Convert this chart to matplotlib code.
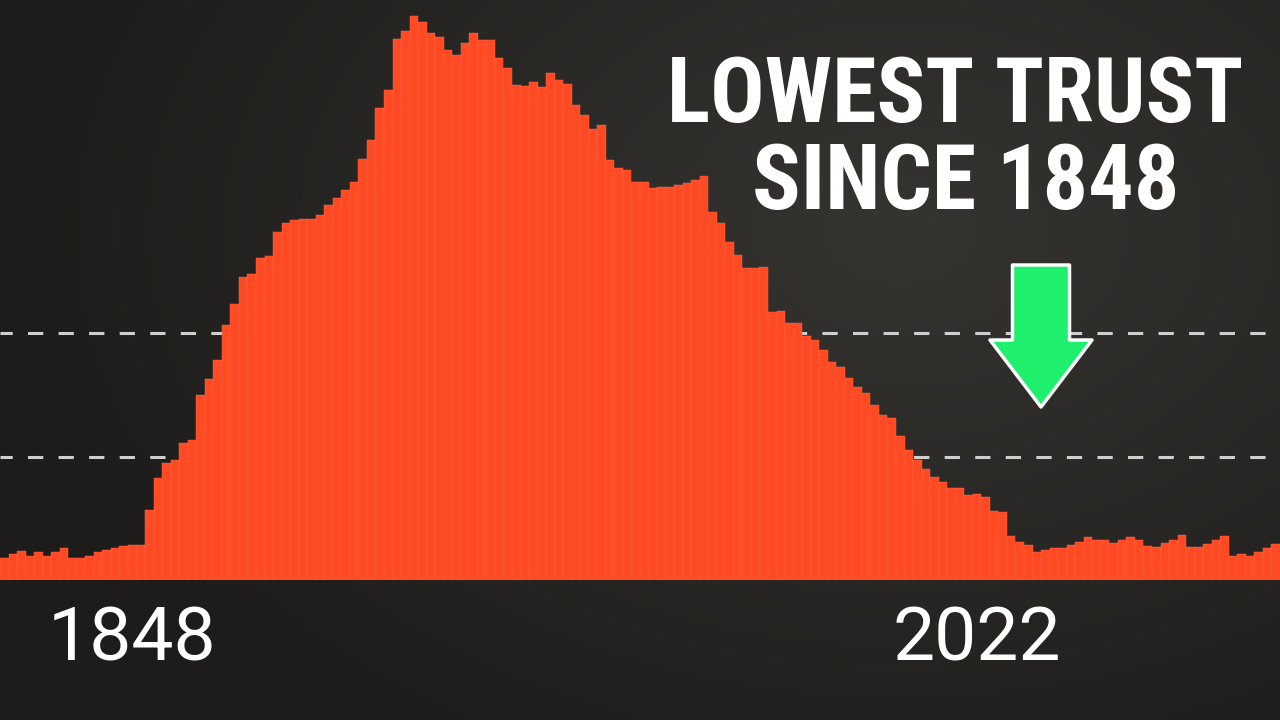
import numpy as np
import matplotlib
matplotlib.use("Agg")
import matplotlib.pyplot as plt
from matplotlib.patches import FancyArrow

# bar heights (baseline = 0, top of frame = 580)
trust = [
    22, 26, 29, 24, 28, 24, 28, 32, 22, 22,
    24, 28, 30, 32, 34, 35, 35, 70, 102, 117,
    120, 137, 140, 185, 201, 220, 255, 276, 303, 306,
    322, 324, 348, 357, 360, 361, 361, 365, 375, 382,
    390, 398, 421, 440, 472, 490, 541, 549, 564, 558,
    547, 543, 530, 525, 537, 547, 540, 540, 522, 512,
    495, 494, 498, 493, 507, 500, 496, 475, 465, 451,
    455, 420, 412, 410, 398, 398, 392, 393, 393, 395,
    397, 400, 404, 368, 357, 338, 325, 312, 312, 313,
    268, 269, 257, 257, 244, 240, 230, 218, 213, 202,
    193, 187, 175, 165, 162, 144, 130, 120, 111, 103,
    98, 92, 92, 85, 86, 83, 69, 68, 44, 38,
    35, 28, 30, 32, 32, 35, 38, 43, 40, 40,
    37, 40, 43, 40, 34, 33, 37, 40, 45, 33,
    33, 36, 40, 44, 24, 26, 24, 28, 32, 36,
]
ref_levels = [123, 247]
year_labels = ["1848", "2022"]
headline = ["LOWEST TRUST", "SINCE 1848"]

W, H = 1280, 720
BASE = 580
fig = plt.figure(figsize=(W / 100, H / 100), dpi=100)

# chalkboard background with a soft light spot
bg = fig.add_axes([0, 0, 1, 1], zorder=0)
yy, xx = np.mgrid[0:H, 0:W]
d = np.sqrt(((xx - 900) / 900) ** 2 + ((yy - 230) / 620) ** 2)
shade = np.clip(1 - d, 0, 1)
lo = np.array([0x1d, 0x1c, 0x1a]) / 255
hi = np.array([0x36, 0x34, 0x31]) / 255
img = lo + (hi - lo) * shade[..., None]
bg.imshow(img, extent=[0, W, H, 0], aspect="auto")
bg.axis("off")

# the bars
ax = fig.add_axes([0, (H - BASE) / H, 1, BASE / H], zorder=1)
ax.patch.set_alpha(0)
for lvl in ref_levels:
    ax.axhline(lvl, color="#cfcfcf", lw=2.2, ls=(1, (5, 5)), zorder=1)
ax.bar(np.arange(len(trust)), trust, width=1.0, align="edge",
       color="#ff4a24", edgecolor="#ff6a48", linewidth=0.3, zorder=2)
ax.set_xlim(0, len(trust))
ax.set_ylim(0, BASE)
ax.axis("off")

# overlay in pixel coordinates for text and arrow
ov = fig.add_axes([0, 0, 1, 1], zorder=2)
ov.set_xlim(0, W)
ov.set_ylim(H, 0)
ov.axis("off")

for lab, x in zip(year_labels, [132, 977]):
    ov.text(x, 640, lab, color="white", fontsize=54, family="Roboto",
            ha="center", va="center")

for line, (x, y) in zip(headline, [(955, 122), (966, 209)]):
    ov.text(x, y, line, color="white", fontsize=65, fontweight="bold",
            family=["Roboto Condensed", "Roboto"], ha="center", va="baseline")

ov.add_patch(FancyArrow(1041, 265, 0, 142, width=57, head_width=102,
                        head_length=67, length_includes_head=True,
                        facecolor="#1ef06e", edgecolor="white", lw=2.5,
                        joinstyle="round"))

fig.savefig("out.png", dpi=100)
